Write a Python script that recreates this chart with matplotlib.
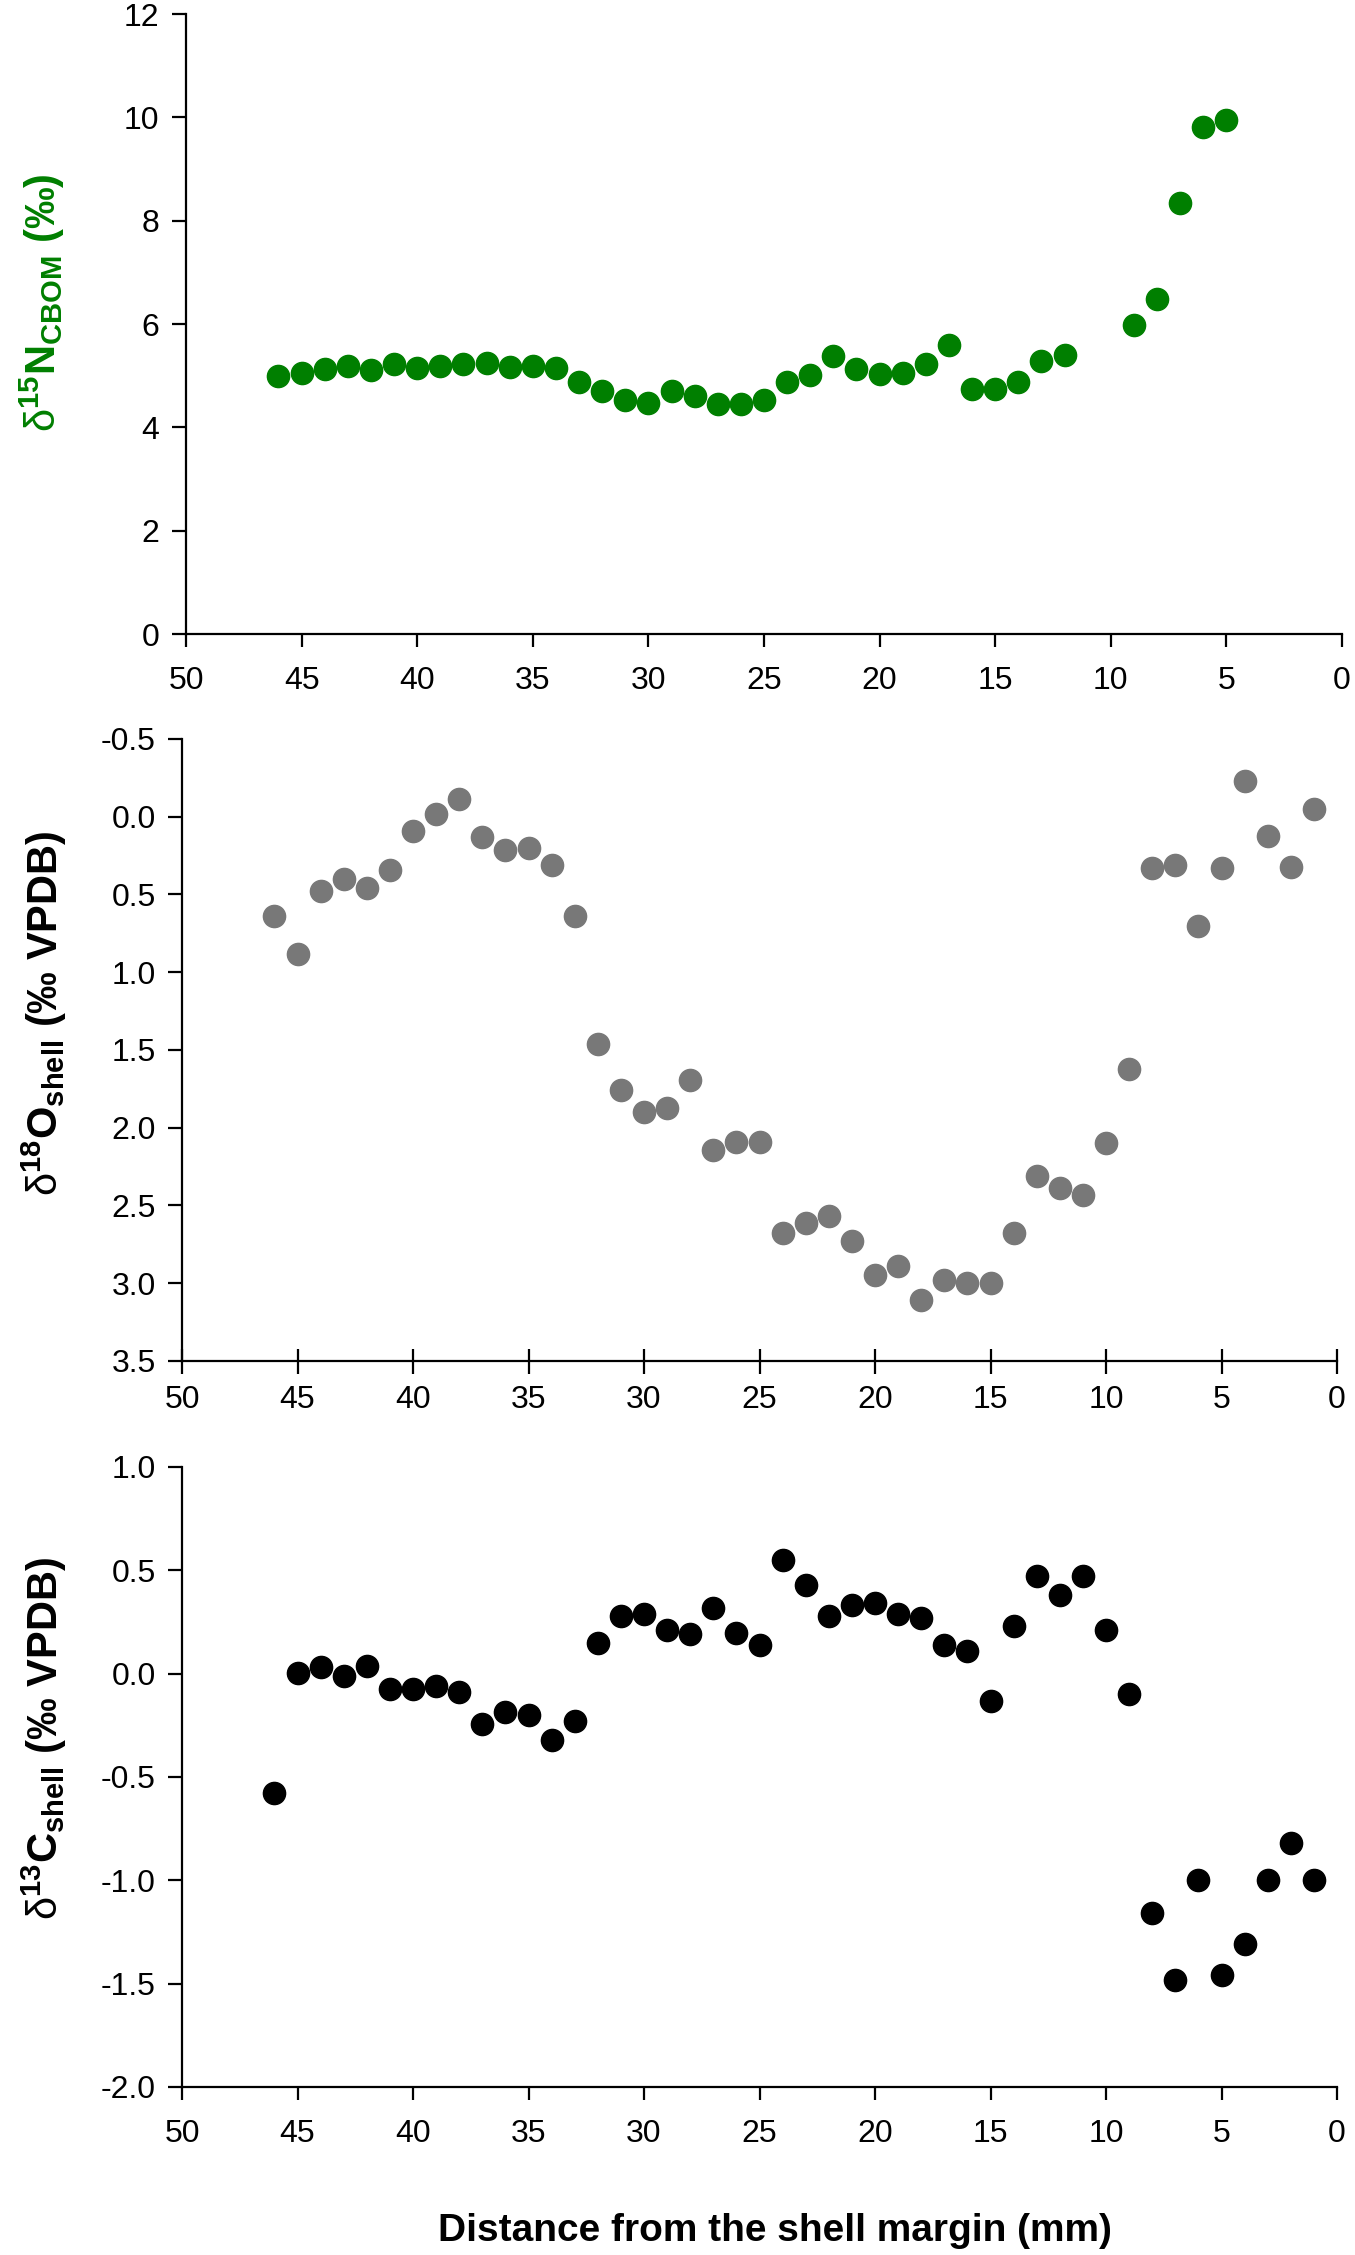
import matplotlib
matplotlib.use("Agg")
import matplotlib.pyplot as plt
from matplotlib import font_manager

plt.rcParams['font.family'] = ['Liberation Sans', 'DejaVu Sans']
plt.rcParams['axes.unicode_minus'] = False

_names = {f.name for f in font_manager.fontManager.ttflist}
if 'Liberation Sans Narrow' in _names:
    LABEL_FONT = 'Liberation Sans Narrow'
    LABEL_SIZE = 34
else:
    LABEL_FONT = 'Liberation Sans'
    LABEL_SIZE = 30

plt.rcParams['mathtext.fontset'] = 'custom'
plt.rcParams['mathtext.rm'] = LABEL_FONT
plt.rcParams['mathtext.bf'] = LABEL_FONT + ':bold'
plt.rcParams['mathtext.it'] = LABEL_FONT + ':italic'
plt.rcParams['mathtext.sf'] = LABEL_FONT

# ---------------- data ----------------
dist_n15 = [46, 45, 44, 43, 42, 41, 40, 39, 38, 37, 36, 35, 34, 33, 32, 31, 30, 29,
            28, 27, 26, 25, 24, 23, 22, 21, 20, 19, 18, 17, 16, 15, 14, 13, 12,
            9, 8, 7, 6, 5]
n15_cbom = [4.99, 5.06, 5.13, 5.19, 5.11, 5.22, 5.15, 5.19, 5.22, 5.24, 5.17, 5.19, 5.14,
            4.88, 4.71, 4.53, 4.48, 4.70, 4.60, 4.45, 4.45, 4.52, 4.87, 5.01, 5.38,
            5.13, 5.03, 5.05, 5.23, 5.60, 4.74, 4.74, 4.88, 5.28, 5.40,
            5.98, 6.48, 8.34, 9.81, 9.94]

dist_shell = list(range(46, 0, -1))
o18_shell = [0.64, 0.88, 0.48, 0.40, 0.46, 0.34, 0.09, -0.02, -0.115, 0.13, 0.215, 0.20,
             0.31, 0.64, 1.46, 1.76, 1.90, 1.87, 1.69, 2.14, 2.09, 2.09, 2.68, 2.61,
             2.57, 2.73, 2.95, 2.89, 3.11, 2.98, 3.00, 3.00, 2.68, 2.31, 2.39, 2.43,
             2.10, 1.62, 0.33, 0.31, 0.70, 0.33, -0.23, 0.125, 0.32, -0.05]
c13_shell = [-0.575, 0.005, 0.03, -0.01, 0.037, -0.074, -0.074, -0.06, -0.087, -0.245,
             -0.185, -0.20, -0.32, -0.23, 0.15, 0.28, 0.29, 0.21, 0.19, 0.32, 0.195,
             0.14, 0.55, 0.43, 0.28, 0.33, 0.34, 0.29, 0.27, 0.14, 0.11, -0.13, 0.23,
             0.475, 0.38, 0.475, 0.21, -0.10, -1.16, -1.48, -1.00, -1.46, -1.31, -1.00,
             -0.82, -1.00]

x_ticks = [50, 45, 40, 35, 30, 25, 20, 15, 10, 5, 0]
n15_ticks = [0, 2, 4, 6, 8, 10, 12]
o18_ticks = [-0.5, 0.0, 0.5, 1.0, 1.5, 2.0, 2.5, 3.0, 3.5]
c13_ticks = [-2.0, -1.5, -1.0, -0.5, 0.0, 0.5, 1.0]

GREEN = '#007F00'
GRAY = '#787878'
BLACK = '#000000'

W, H = 1355, 2255
fig = plt.figure(figsize=(W / 100, H / 100), dpi=100)


def px_axes(left, top, right, bottom):
    return fig.add_axes([left / W, 1 - bottom / H, (right - left) / W, (bottom - top) / H])


def style(ax, xdir='out'):
    for s in ['top', 'right']:
        ax.spines[s].set_visible(False)
    for s in ['left', 'bottom']:
        ax.spines[s].set_linewidth(1.6)
    ax.tick_params(axis='y', direction='out', length=10, width=1.6, pad=9, labelsize=23)
    if xdir == 'inout':
        ax.tick_params(axis='x', direction='inout', length=18, width=1.6, pad=8, labelsize=23)
    else:
        ax.tick_params(axis='x', direction='out', length=9, width=1.6, pad=14, labelsize=23)
    ax.set_xlim(50, 0)
    ax.set_xticks(x_ticks)
    ax.set_xticklabels([str(t) for t in x_ticks])


# Panel 1: d15N CBOM
ax1 = px_axes(186, 14, 1342, 634)
ax1.plot(dist_n15, n15_cbom, 'o', color=GREEN, ms=16, mec=GREEN, clip_on=False)
ax1.set_ylim(0, 12)
ax1.set_yticks(n15_ticks)
ax1.set_yticklabels([str(t) for t in n15_ticks])
style(ax1)

# Panel 2: d18O shell (inverted axis)
ax2 = px_axes(182, 739, 1337, 1361)
ax2.plot(dist_shell, o18_shell, 'o', color=GRAY, ms=16, mec=GRAY, clip_on=False)
ax2.set_ylim(3.5, -0.5)
ax2.set_yticks(o18_ticks)
ax2.set_yticklabels([f"{t:.1f}" for t in o18_ticks])
style(ax2, xdir='inout')

# Panel 3: d13C shell
ax3 = px_axes(182, 1467, 1337, 2087)
ax3.plot(dist_shell, c13_shell, 'o', color=BLACK, ms=16, mec=BLACK, clip_on=False)
ax3.set_ylim(-2.0, 1.0)
ax3.set_yticks(c13_ticks)
ax3.set_yticklabels([f"{t:.1f}" for t in c13_ticks])
style(ax3)

# Axis titles
lab_kw = dict(rotation=90, ha='center', va='center', fontsize=LABEL_SIZE,
              fontweight='bold', family=[LABEL_FONT, 'DejaVu Sans'])
fig.text(42 / W, 1 - 303 / H, r'$\mathrm{\delta}^{\mathbf{15}}\mathbf{N}_{\mathbf{CBOM}}$ (‰)',
         color=GREEN, **lab_kw)
fig.text(44 / W, 1 - 1013 / H, r'$\mathrm{\delta}^{\mathbf{18}}\mathbf{O}_{\mathbf{shell}}$ (‰ VPDB)',
         color='black', **lab_kw)
fig.text(44 / W, 1 - 1738 / H, r'$\mathrm{\delta}^{\mathbf{13}}\mathbf{C}_{\mathbf{shell}}$ (‰ VPDB)',
         color='black', **lab_kw)
fig.text(775 / W, 1 - 2231 / H, 'Distance from the shell margin (mm)',
         ha='center', va='center', fontsize=28, fontweight='bold')

fig.savefig('out.png', dpi=100)
